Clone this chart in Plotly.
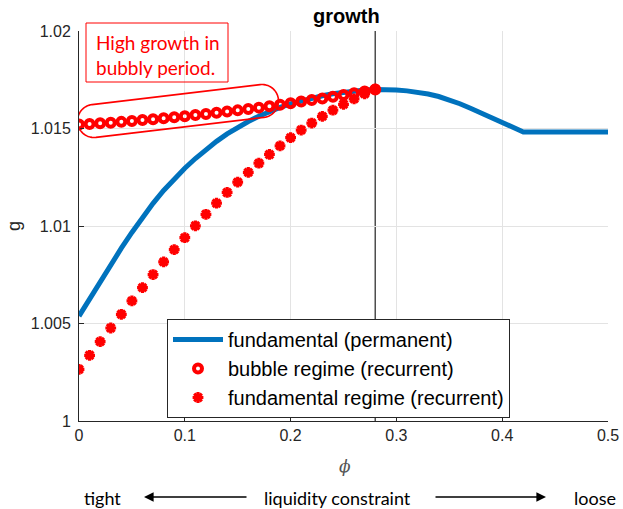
import numpy as np
import plotly.graph_objects as go

# ---- data -------------------------------------------------------------
# fundamental equilibrium (permanent): growth vs liquidity parameter phi
phi_fund = [0.00, 0.01, 0.02, 0.03, 0.04, 0.05, 0.06, 0.07, 0.08, 0.09,
            0.10, 0.11, 0.12, 0.13, 0.14, 0.15, 0.16, 0.17, 0.18, 0.19,
            0.20, 0.21, 0.22, 0.23, 0.24, 0.25, 0.26, 0.27, 0.28, 0.29,
            0.30, 0.31, 0.32, 0.33, 0.34, 0.35, 0.36, 0.37, 0.38, 0.39,
            0.40, 0.41, 0.42, 0.50]
g_fund = [1.00538, 1.00628, 1.00716, 1.00802, 1.00886, 1.00967, 1.01044,
          1.01116, 1.01182, 1.01242, 1.01296, 1.01346, 1.01392, 1.01434,
          1.01472, 1.01506, 1.01536, 1.01563, 1.01587, 1.01608, 1.01626,
          1.01642, 1.01656, 1.01668, 1.01678, 1.01686, 1.01692, 1.01697,
          1.01700, 1.01700, 1.01698, 1.01693, 1.01686, 1.01677, 1.01664,
          1.01647, 1.01627, 1.01604, 1.01580, 1.01555, 1.01530, 1.01505,
          1.01482, 1.01482]

# recurrent-bubble economy, phi grid
phi_rec = [0.00, 0.01, 0.02, 0.03, 0.04, 0.05, 0.06, 0.07, 0.08, 0.09,
           0.10, 0.11, 0.12, 0.13, 0.14, 0.15, 0.16, 0.17, 0.18, 0.19,
           0.20, 0.21, 0.22, 0.23, 0.24, 0.25, 0.26, 0.27, 0.28]
# growth in the bubble regime
g_bubble = [1.01520, 1.01523, 1.01527, 1.01530, 1.01534, 1.01539, 1.01543,
            1.01548, 1.01553, 1.01558, 1.01563, 1.01569, 1.01574, 1.01581,
            1.01587, 1.01593, 1.01600, 1.01607, 1.01614, 1.01622, 1.01630,
            1.01638, 1.01646, 1.01654, 1.01663, 1.01672, 1.01681, 1.01690,
            1.01700]
# growth in the fundamental regime
g_fund_rec = [1.00265, 1.00337, 1.00407, 1.00477, 1.00547, 1.00616, 1.00684,
              1.00751, 1.00816, 1.00879, 1.00940, 1.01001, 1.01060, 1.01117,
              1.01172, 1.01225, 1.01275, 1.01322, 1.01367, 1.01411, 1.01453,
              1.01492, 1.01528, 1.01562, 1.01594, 1.01624, 1.01652, 1.01678,
              1.01702]

phi_threshold = 0.28

x_ticks = [0, 0.1, 0.2, 0.3, 0.4, 0.5]
x_tick_text = ["0", "0.1", "0.2", "0.3", "0.4", "0.5"]
y_ticks = [1.0, 1.005, 1.01, 1.015, 1.02]
y_tick_text = ["1", "1.005", "1.01", "1.015", "1.02"]

# ---- layout geometry ---------------------------------------------------
W, H = 623, 509
L, R, T, B = 79, 608, 31, 421
XR = [0, 0.5]
YR = [1.0, 1.02]


def px_x(px):
    return (px - L) / (R - L)


def px_y(py):
    return (B - py) / (B - T)


def to_data(px, py):
    return (XR[0] + (px - L) / (R - L) * (XR[1] - XR[0]),
            YR[0] + (B - py) / (B - T) * (YR[1] - YR[0]))


RED = "#FF0000"
BLUE = "#0072BD"
AX = "#262626"
GRID = "#E3E3E3"

fig = go.Figure()

fig.add_trace(go.Scatter(
    x=phi_fund, y=g_fund, mode="lines", name="fundamental (permanent)",
    line=dict(color=BLUE, width=5),
))
fig.add_trace(go.Scatter(
    x=phi_rec, y=g_bubble, mode="markers", name="bubble regime (recurrent)",
    marker=dict(symbol="circle-open", size=8, color=RED,
                line=dict(width=4, color=RED)),
))
fig.add_trace(go.Scatter(
    x=phi_rec, y=g_fund_rec, mode="markers",
    name="fundamental regime (recurrent)",
    marker=dict(symbol="asterisk-open", size=9, color=RED,
                line=dict(width=3.2, color=RED)),
))

shapes = []
# threshold phi
shapes.append(dict(type="line", xref="x", yref="y",
                   x0=phi_threshold, x1=phi_threshold, y0=YR[0], y1=YR[1],
                   line=dict(color="#4D4D4D", width=1.5), layer="below"))

# rounded outline around the bubbly-period markers
c1 = np.array([94.0, 121.0])
c2 = np.array([262.0, 101.0])
rad = 16.5
ang = np.arctan2(c2[1] - c1[1], c2[0] - c1[0])
t_right = np.linspace(ang - np.pi / 2, ang + np.pi / 2, 40)
t_left = np.linspace(ang + np.pi / 2, ang + 3 * np.pi / 2, 40)
pts = [(c2[0] + rad * np.cos(t), c2[1] + rad * np.sin(t)) for t in t_right]
pts += [(c1[0] + rad * np.cos(t), c1[1] + rad * np.sin(t)) for t in t_left]
dpts = [to_data(px, py) for px, py in pts]
path = "M " + " L ".join(f"{x:.6f},{y:.7f}" for x, y in dpts) + " Z"
shapes.append(dict(type="path", xref="x", yref="y", path=path,
                   line=dict(color=RED, width=1.6)))

# note box
shapes.append(dict(type="rect", xref="paper", yref="paper",
                   x0=px_x(86), x1=px_x(228), y0=px_y(82), y1=px_y(23),
                   line=dict(color=RED, width=1),
                   fillcolor="rgba(0,0,0,0)", layer="above"))

annotations = []
note_font = dict(family="Lato, Carlito, sans-serif", size=19, color=RED)
annotations.append(dict(xref="paper", yref="paper", x=px_x(94), y=px_y(42),
                        text="High growth in", showarrow=False,
                        xanchor="left", yanchor="middle", font=note_font))
annotations.append(dict(xref="paper", yref="paper", x=px_x(94), y=px_y(67),
                        text="bubbly period.", showarrow=False,
                        xanchor="left", yanchor="middle", font=note_font))

# title and axis labels
annotations.append(dict(xref="paper", yref="paper", x=px_x(346), y=px_y(16),
                        text="<b>growth</b>", showarrow=False,
                        xanchor="center", yanchor="middle",
                        font=dict(family="Liberation Sans, Arial", size=20,
                                  color="black")))
annotations.append(dict(xref="paper", yref="paper", x=px_x(14), y=px_y(226),
                        text="g", showarrow=False, textangle=-90,
                        xanchor="center", yanchor="middle",
                        font=dict(family="Liberation Sans, Arial", size=18,
                                  color=AX)))
annotations.append(dict(xref="paper", yref="paper", x=px_x(345), y=px_y(466),
                        text="<i>ϕ</i>", showarrow=False,
                        xanchor="center", yanchor="middle",
                        font=dict(family="DejaVu Serif, serif", size=17,
                                  color="#555555")))

# liquidity constraint direction
bot_font = dict(family="Lato, Carlito, sans-serif", size=18, color="black")
ybot = px_y(498)
annotations.append(dict(xref="paper", yref="paper", x=px_x(102), y=ybot,
                        text="tight", showarrow=False, xanchor="center",
                        yanchor="middle", font=bot_font))
annotations.append(dict(xref="paper", yref="paper", x=px_x(337), y=ybot,
                        text="liquidity constraint", showarrow=False,
                        xanchor="center", yanchor="middle", font=bot_font))
annotations.append(dict(xref="paper", yref="paper", x=px_x(595), y=ybot,
                        text="loose", showarrow=False, xanchor="center",
                        yanchor="middle", font=bot_font))
annotations.append(dict(xref="paper", yref="paper", x=px_x(144), y=px_y(497),
                        ax=104, ay=0, text="", showarrow=True, arrowhead=2,
                        arrowsize=1.2, arrowwidth=1.6, arrowcolor="black"))
annotations.append(dict(xref="paper", yref="paper", x=px_x(546), y=px_y(497),
                        ax=-112, ay=0, text="", showarrow=True, arrowhead=2,
                        arrowsize=1.2, arrowwidth=1.6, arrowcolor="black"))

tick_font = dict(family="Liberation Sans, Arial", size=16, color=AX)

fig.update_layout(
    width=W, height=H,
    margin=dict(l=L, r=W - R, t=T, b=H - B, pad=0, autoexpand=False),
    paper_bgcolor="white", plot_bgcolor="white",
    showlegend=True,
    legend=dict(x=px_x(167), y=px_y(319), xanchor="left", yanchor="top",
                bgcolor="white", bordercolor=AX, borderwidth=1,
                font=dict(family="Liberation Sans, Arial", size=20,
                          color="black"),
                itemwidth=50, tracegroupgap=0),
    xaxis=dict(range=XR, tickvals=x_ticks, ticktext=x_tick_text,
               showgrid=True, gridcolor=GRID, gridwidth=1,
               zeroline=False, showline=True, linecolor=AX, linewidth=1,
               ticks="inside", ticklen=5, tickcolor=AX, tickfont=tick_font,
               mirror=False, fixedrange=True, automargin=False),
    yaxis=dict(range=YR, tickvals=y_ticks, ticktext=y_tick_text,
               showgrid=True, gridcolor=GRID, gridwidth=1,
               zeroline=False, showline=True, linecolor=AX, linewidth=1,
               ticks="inside", ticklen=5, tickcolor=AX, tickfont=tick_font,
               ticklabelstandoff=4, mirror=False, fixedrange=True,
               automargin=False),
    shapes=shapes,
    annotations=annotations,
)

fig.write_html("out.html")
